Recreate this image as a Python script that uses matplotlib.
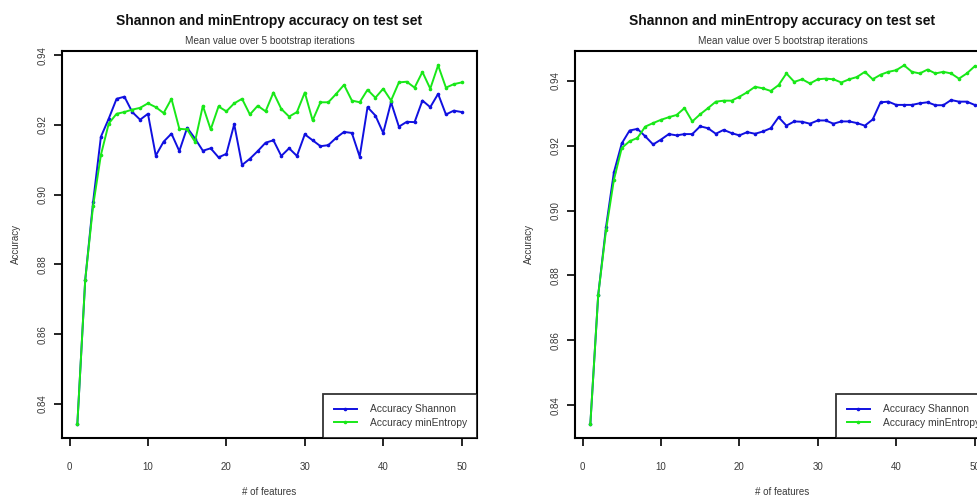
import numpy as np
import matplotlib
matplotlib.use("Agg")
from matplotlib import pyplot as plt

plt.rcParams['font.family'] = ['Liberation Sans', 'DejaVu Sans']

n_features = list(range(1, 51))

# left panel
left_shannon = [0.8343, 0.8755, 0.8978, 0.9166, 0.9218, 0.9275, 0.9281, 0.9237, 0.9215, 0.9232,
                0.9112, 0.9152, 0.9175, 0.9125, 0.9192, 0.9161, 0.9126, 0.9133, 0.9107, 0.9117,
                0.9202, 0.9085, 0.9103, 0.9125, 0.9149, 0.9156, 0.9111, 0.9133, 0.9111, 0.9173,
                0.9156, 0.9139, 0.9142, 0.9163, 0.9180, 0.9177, 0.9109, 0.9251, 0.9227, 0.9177,
                0.9265, 0.9195, 0.9209, 0.9208, 0.9270, 0.9251, 0.9289, 0.9230, 0.9241, 0.9237]
left_minentropy = [0.8343, 0.8755, 0.8967, 0.9114, 0.9204, 0.9232, 0.9237, 0.9244, 0.9249, 0.9262,
                   0.9251, 0.9234, 0.9275, 0.9189, 0.9187, 0.9152, 0.9255, 0.9187, 0.9253, 0.9239,
                   0.9262, 0.9275, 0.9230, 0.9255, 0.9239, 0.9293, 0.9246, 0.9224, 0.9237, 0.9293,
                   0.9213, 0.9265, 0.9265, 0.9289, 0.9315, 0.9270, 0.9265, 0.9301, 0.9278, 0.9304,
                   0.9270, 0.9322, 0.9324, 0.9307, 0.9352, 0.9304, 0.9371, 0.9307, 0.9317, 0.9322]

# right panel
right_shannon = [0.8343, 0.8740, 0.8950, 0.9118, 0.9207, 0.9247, 0.9252, 0.9229, 0.9204, 0.9219,
                 0.9236, 0.9232, 0.9236, 0.9236, 0.9260, 0.9254, 0.9237, 0.9249, 0.9239, 0.9232,
                 0.9242, 0.9237, 0.9244, 0.9254, 0.9288, 0.9262, 0.9275, 0.9274, 0.9268, 0.9278,
                 0.9278, 0.9268, 0.9275, 0.9275, 0.9270, 0.9262, 0.9281, 0.9334, 0.9336, 0.9326,
                 0.9326, 0.9326, 0.9331, 0.9334, 0.9325, 0.9325, 0.9341, 0.9336, 0.9336, 0.9326]
right_minentropy = [0.8343, 0.8740, 0.8940, 0.9095, 0.9193, 0.9214, 0.9224, 0.9259, 0.9270, 0.9280,
                    0.9288, 0.9295, 0.9316, 0.9275, 0.9297, 0.9316, 0.9336, 0.9339, 0.9339, 0.9351,
                    0.9365, 0.9382, 0.9377, 0.9369, 0.9387, 0.9423, 0.9397, 0.9405, 0.9392, 0.9405,
                    0.9407, 0.9405, 0.9395, 0.9405, 0.9412, 0.9428, 0.9405, 0.9419, 0.9428, 0.9433,
                    0.9448, 0.9428, 0.9423, 0.9435, 0.9423, 0.9428, 0.9423, 0.9407, 0.9423, 0.9445]

y_ticks = [0.84, 0.86, 0.88, 0.90, 0.92, 0.94]
x_ticks = [0, 10, 20, 30, 40, 50]

title = "Shannon and minEntropy accuracy on test set"
subtitle = "Mean value over 5 bootstrap iterations"
legend_labels = ["Accuracy Shannon", "Accuracy minEntropy"]

text_col = '#3a3a3a'
blue = '#1010e0'
green = '#18e818'


def draw_panel(ax, shannon, minentropy):
    ax.plot(n_features, shannon, color=blue, lw=1.4, marker='o', ms=1.6,
            mec=blue, label=legend_labels[0])
    ax.plot(n_features, minentropy, color=green, lw=1.4, marker='o', ms=1.6,
            mec=green, label=legend_labels[1])
    # R style 4% range expansion
    lo = min(min(shannon), min(minentropy))
    hi = max(max(shannon), max(minentropy))
    pad = (hi - lo) * 0.04
    ax.set_ylim(lo - pad, hi + pad)
    ax.set_xlim(1 - 49 * 0.04, 50 + 49 * 0.04)
    ax.set_xticks(x_ticks)
    ax.set_yticks(y_ticks)
    ax.set_yticklabels(["%.2f" % v for v in y_ticks])
    ax.tick_params(axis='both', direction='out', length=6, width=1.2,
                   labelsize=7, labelcolor=text_col)
    ax.tick_params(axis='x', pad=11)
    ax.tick_params(axis='y', pad=4, labelrotation=90)
    for lab in ax.get_yticklabels():
        lab.set_va('center')
    for s in ax.spines.values():
        s.set_linewidth(1.5)
    ax.set_xlabel("# of features", fontsize=7, color=text_col, labelpad=11)
    ax.set_ylabel("Accuracy", fontsize=7, color=text_col, labelpad=12)
    ax.text(0.5, 1.077, title, transform=ax.transAxes, ha='center', va='center',
            fontsize=10, fontweight='bold', color='#111111')
    ax.text(0.5, 1.025, subtitle, transform=ax.transAxes, ha='center', va='center',
            fontsize=7.2, color=text_col)
    leg = ax.legend(loc='lower right', fontsize=7.4, frameon=True, fancybox=False,
                    borderaxespad=0, handlelength=2.3, borderpad=1.0,
                    labelspacing=0.35, handletextpad=1.2)
    leg.get_frame().set_edgecolor('black')
    leg.get_frame().set_linewidth(1.3)
    for t in leg.get_texts():
        t.set_color(text_col)


fig = plt.figure(figsize=(9.78, 4.99), dpi=100)
ax1 = fig.add_axes([62 / 978, 61 / 499, 415 / 978, 387 / 499])
ax2 = fig.add_axes([575 / 978, 61 / 499, 415 / 978, 387 / 499])

draw_panel(ax1, left_shannon, left_minentropy)
draw_panel(ax2, right_shannon, right_minentropy)

fig.savefig("out.png", dpi=100)
